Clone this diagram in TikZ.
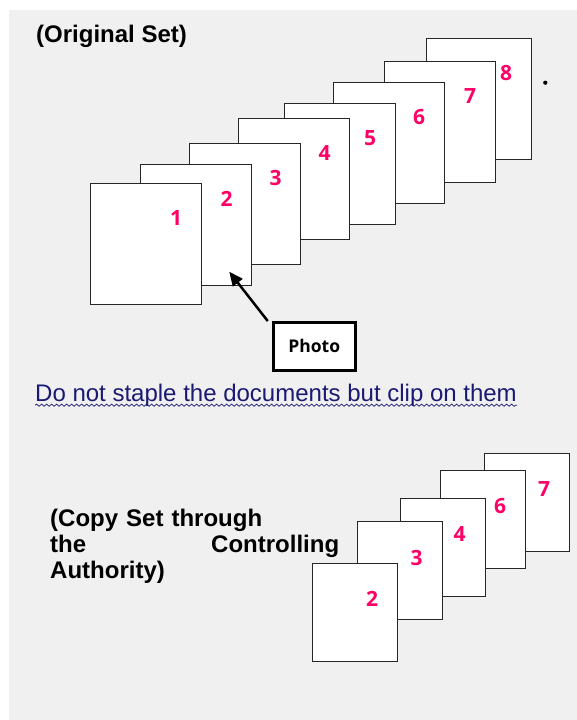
\documentclass[tikz,border=0pt]{standalone}
\usepackage{fontspec}
\setmainfont{Liberation Sans}
\newfontfamily\numfont{Open Sans}
\usetikzlibrary{arrows.meta,decorations.pathmorphing}
\definecolor{bggray}{HTML}{F0F0F0}
\definecolor{numpink}{HTML}{FF0066}
\definecolor{notenavy}{HTML}{1A1A73}
\tikzset{
  sheet/.style={draw=black!85, fill=white, line width=0.9pt, inner sep=0pt, outer sep=0pt,
    anchor=north west, minimum width=111pt, minimum height=121pt},
  smallsheet/.style={sheet, minimum width=85pt, minimum height=98pt},
  num/.style={text=numpink, inner sep=0pt, font=\numfont\bfseries\fontsize{21}{24}\selectfont},
  heading/.style={inner sep=0pt, font=\bfseries\fontsize{24}{26.3}\selectfont},
  photobox/.style={draw, fill=white, line width=3pt, minimum width=81.5pt, minimum height=47.5pt,
    font=\numfont\bfseries\fontsize{17.5}{20}\selectfont},
  pointer/.style={line width=2.5pt, -{Triangle[length=14pt,width=12pt]}}
}

\begin{document}
\begin{tikzpicture}[x=1pt, y=-1pt]
		%%%%% background %%%%%
		\useasboundingbox (0, 0) rectangle (577, 720);
		\fill[bggray] (8.7, 10) rectangle (577, 720);
		
		%%%%% original set %%%%%
		\node[heading, anchor=base west] (orig) at (36, 42.6) {(Original Set)};
		
		\node[sheet, minimum width=105pt] (p8) at (426, 38) {};
		\node[num] (n8) at ([shift={(-25, 35)}]p8.north east) {8};
		\node[sheet] (p7) at (384, 61) {};
		\node[num] (n7) at ([shift={(-25, 35)}]p7.north east) {7};
		\node[sheet] (p6) at (333, 82) {};
		\node[num] (n6) at ([shift={(-25, 35)}]p6.north east) {6};
		\node[sheet] (p5) at (284, 103) {};
		\node[num] (n5) at ([shift={(-25, 35)}]p5.north east) {5};
		\node[sheet] (p4) at (238.5, 118) {};
		\node[num] (n4) at ([shift={(-25, 35)}]p4.north east) {4};
		\node[sheet] (p3) at (189.5, 143) {};
		\node[num] (n3) at ([shift={(-25, 35)}]p3.north east) {3};
		\node[sheet] (p2) at (140.5, 164) {};
		\node[num] (n2) at ([shift={(-25, 35)}]p2.north east) {2};
		\node[sheet] (p1) at (90, 183) {};
		\node[num] (n1) at ([shift={(-25, 35)}]p1.north east) {1};
		
		\fill (545.3, 82.7) circle (2.1pt);
		
		%%%%% photo %%%%%
		\node[photobox] (photo) at (314.3, 346.3) {Photo};
		\coordinate (tip) at ([shift={(-22.3, -13.3)}]p2.south east);
		\draw[pointer] ([xshift=-4.3pt]photo.north west) -- (tip);
		
		%%%%% note %%%%%
		\node[inner sep=0pt, anchor=base west, text=notenavy, font=\fontsize{24}{28}\selectfont] (note) at (35, 401.7)
			{Do not staple the documents but clip on them};
		\draw[notenavy, line width=0.7pt, decorate, decoration={snake, amplitude=1.1pt, segment length=5pt}]
			([yshift=-3.5pt]note.base west) -- ([yshift=-3.5pt]note.base east);
		
		%%%%% copy set %%%%%
		\node[heading, anchor=north west, text width=289pt, align=left] (copy) at (50, 508.5)
			{(Copy Set through\\the\hfill Controlling\\Authority)};
		
		\node[smallsheet] (q7) at (484.5, 453) {};
		\node[num] (m7) at ([shift={(-25.5, 36)}]q7.north east) {7};
		\node[smallsheet] (q6) at (440.5, 470.5) {};
		\node[num] (m6) at ([shift={(-25.5, 36)}]q6.north east) {6};
		\node[smallsheet] (q4) at (400, 498) {};
		\node[num] (m4) at ([shift={(-25.5, 36)}]q4.north east) {4};
		\node[smallsheet] (q3) at (357, 521.5) {};
		\node[num] (m3) at ([shift={(-25.5, 36)}]q3.north east) {3};
		\node[smallsheet] (q2) at (312.5, 563) {};
		\node[num] (m2) at ([shift={(-25.5, 36)}]q2.north east) {2};
		%%%%% END %%%%%
	\end{tikzpicture}
\end{document}
